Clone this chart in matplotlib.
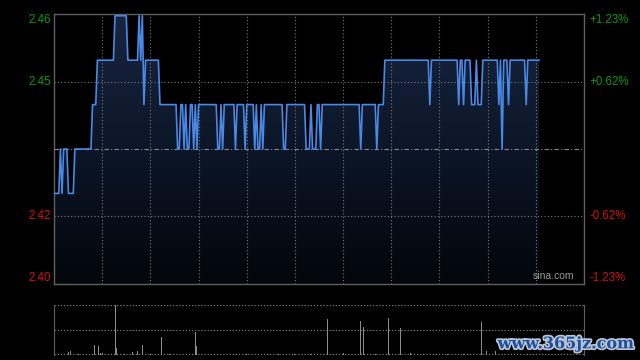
import numpy as np
import matplotlib
matplotlib.use('Agg')
import matplotlib.pyplot as plt
from matplotlib.colors import LinearSegmentedColormap
import matplotlib.patheffects as pe

# 分时价格 (每分钟), 按连续相同价格分段记录
price_levels = [2.42, 2.43, 2.42, 2.43, 2.42, 2.43, 2.44, 2.45, 2.46, 2.45,
                2.46, 2.45, 2.46, 2.44, 2.45, 2.44, 2.43, 2.44, 2.43, 2.44,
                2.43, 2.44, 2.43, 2.44, 2.43, 2.44, 2.43, 2.44, 2.43, 2.44,
                2.43, 2.44, 2.43, 2.44, 2.43, 2.44, 2.43, 2.44, 2.43, 2.44,
                2.43, 2.44, 2.43, 2.44, 2.43, 2.44, 2.43, 2.44, 2.43, 2.44,
                2.43, 2.44, 2.45, 2.44, 2.45, 2.44, 2.45, 2.44, 2.45, 2.44,
                2.45, 2.44, 2.45, 2.44, 2.45, 2.43, 2.45, 2.44, 2.45, 2.44,
                2.45]
run_lengths = [4, 1, 1, 3, 4, 11, 3, 11, 8, 7,
               1, 1, 1, 1, 9, 11, 2, 2, 1, 1,
               2, 2, 1, 1, 1, 12, 2, 1, 1, 7,
               1, 5, 1, 5, 1, 1, 2, 1, 1, 12,
               2, 12, 3, 1, 3, 2, 1, 24, 1, 9,
               1, 4, 28, 1, 17, 1, 2, 1, 4, 3,
               1, 3, 10, 1, 1, 1, 3, 1, 10, 1,
               8]

prev_close = 2.43
left_labels = ['2.46', '2.45', '2.42', '2.40']
right_labels = ['+1.23%', '+0.62%', '-0.62%', '-1.23%']

# 成交量 (相对值)
vol_minutes = [9, 10, 25, 28, 29, 30, 38, 39, 49, 52, 55, 67, 88, 89,
               170, 180, 191, 193, 208, 216, 222, 266, 269, 275,
               3, 15, 44, 60, 72, 100, 120, 140, 150, 160, 200, 230, 245, 255, 285, 295]
vol_values = [5, 7, 19, 17, 3, 3, 110, 13, 5, 7, 19, 35, 45, 17,
              71, 3, 67, 55, 73, 53, 3, 65, 7, 7,
              2, 2, 2, 1, 2, 2, 1, 2, 2, 1, 2, 1, 2, 2, 1, 2]

prices = np.repeat(price_levels, run_lengths)
minutes = np.arange(len(prices))

bg = 'black'
grid_c = '#7a7a7a'
spine_c = '#606060'
green = '#0c9a0c'
red = '#d01010'

plt.rcParams['font.family'] = ['Liberation Sans', 'DejaVu Sans']
fig = plt.figure(figsize=(6.4, 3.6), dpi=100, facecolor=bg)

# 主图
ax = fig.add_axes([54 / 640, 76 / 360, 530 / 640, 270 / 360], facecolor=bg)
span = 0.0304
ymin, ymax = prev_close - span, prev_close + span
ax.set_xlim(0, 330)
ax.set_ylim(ymin, ymax)

for s in ax.spines.values():
    s.set_color(spine_c)
    s.set_linewidth(1)
ax.set_xticks([])
ax.set_yticks([])

# 网格
for m in range(30, 330, 30):
    ax.axvline(m, color=grid_c, lw=0.8, ls=(0, (1, 2)), zorder=2)
grid_step = prev_close * 0.0062
for y in [prev_close + grid_step, prev_close - grid_step]:
    ax.axhline(y, color=grid_c, lw=0.8, ls=(0, (1, 2)), zorder=2)
ax.axhline(prev_close, color='#8a8a8a', lw=0.8, ls=(0, (4, 2, 1, 2)), zorder=3)

# 渐变填充
poly = ax.fill_between(minutes, prices, ymin, color='none', lw=0)
cmap = LinearSegmentedColormap.from_list('fill', ['#03060b', '#0c1628', '#17253f'])
grad = np.linspace(0, 1, 256).reshape(-1, 1)
im = ax.imshow(grad, extent=[0, 330, ymin, ymax], origin='lower', aspect='auto',
               cmap=cmap, zorder=1)
im.set_clip_path(poly.get_paths()[0], transform=ax.transData)

ax.plot(minutes, prices, color='#4a88e6', lw=1.2, zorder=4)

# 左右刻度文字
label_y = [ymax, prev_close + grid_step, prev_close - grid_step, ymin]
label_va = ['top', 'center', 'center', 'bottom']
label_c = [green, green, red, red]
tr = ax.get_yaxis_transform()
for y, va, c, lt, rt in zip(label_y, label_va, label_c, left_labels, right_labels):
    ax.text(-0.006, y, lt, transform=tr, ha='right', va=va, color=c, fontsize=8.3)
    ax.text(1.011, y, rt, transform=tr, ha='left', va=va, color=c, fontsize=8.3)

ax.text(0.982, 0.012, 'sina.com', transform=ax.transAxes, ha='right', va='bottom',
        color='#9a9a9a', fontsize=7.5)

# 成交量图
axv = fig.add_axes([54 / 640, 5.5 / 360, 530 / 640, 50 / 360], facecolor=bg)
axv.set_xlim(0, 330)
axv.set_ylim(0, 100)
axv.bar(vol_minutes, vol_values, width=0.6, color='#8c8c8c', zorder=2)
axv.set_xticks([])
axv.set_yticks([])
for side in ['left', 'right']:
    axv.spines[side].set_color(spine_c)
for side in ['top', 'bottom']:
    axv.spines[side].set_visible(False)
for y in [0.5, 100, 50]:
    axv.axhline(y, color=grid_c, lw=0.9, ls=(0, (1, 1.5)), zorder=1)

# 水印
fig.text(0.99, 0.045, 'www.365jz.com', ha='right', va='center', color='#1d4f9c',
         fontsize=11.5, fontweight='bold', family='DejaVu Serif',
         path_effects=[pe.withStroke(linewidth=2.5, foreground='#b8c4d4')])

fig.savefig('out.png', dpi=100, facecolor=bg)
